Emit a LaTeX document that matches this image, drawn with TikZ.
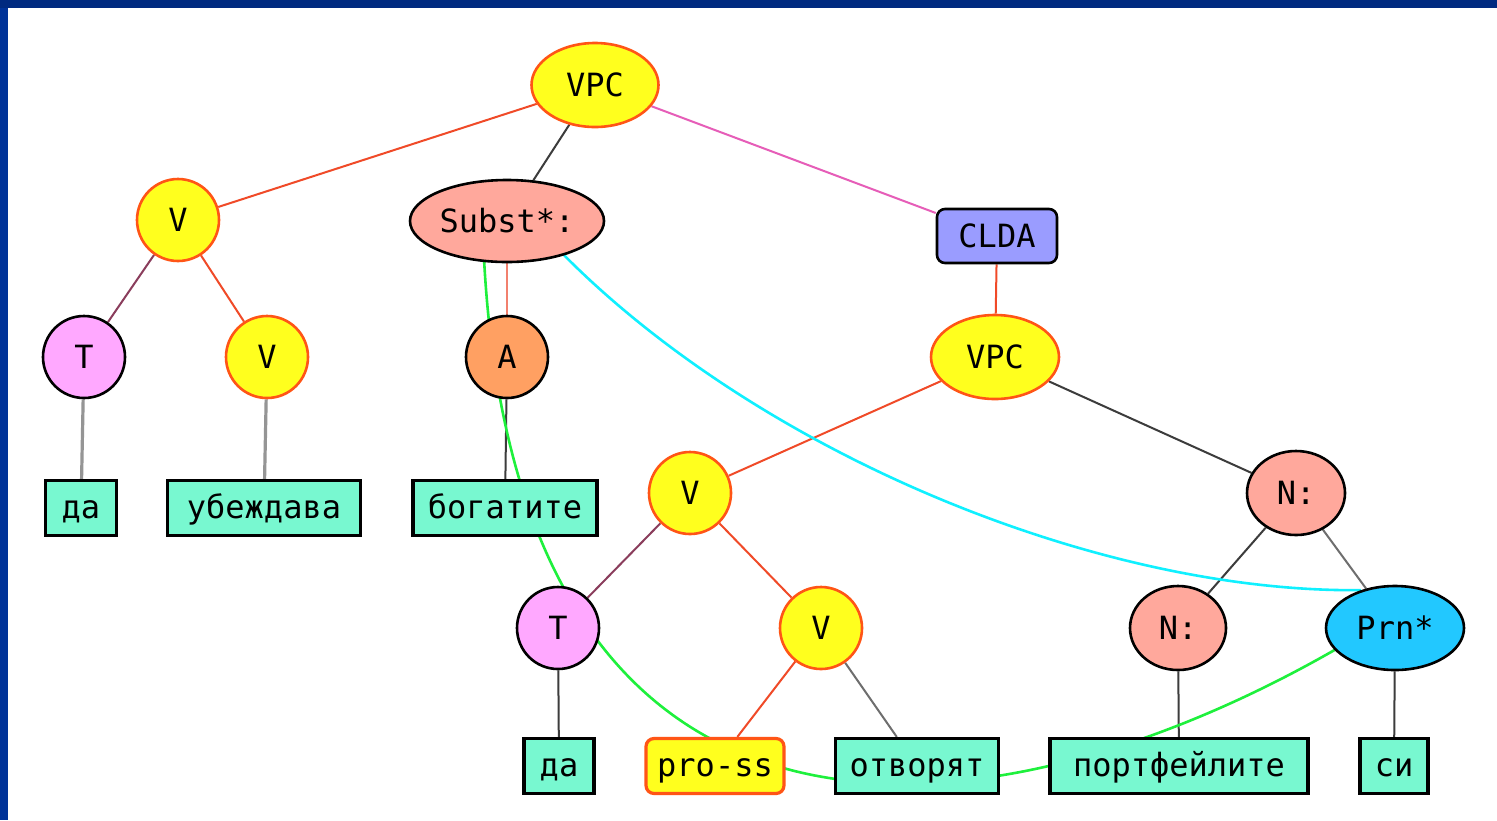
\documentclass[tikz,border=0pt]{standalone}
\usepackage{fontspec}
\newfontfamily\pixfont{DejaVu Sans Mono}
\usetikzlibrary{shapes.geometric,backgrounds}

\definecolor{navytop}{HTML}{002A80}
\definecolor{navyleft}{HTML}{003399}
\definecolor{yel}{HTML}{FFFF1E}
\definecolor{orn}{HTML}{FF5516}
\definecolor{salm}{HTML}{FFA89C}
\definecolor{apri}{HTML}{FFA062}
\definecolor{pinkf}{HTML}{FFA8FF}
\definecolor{lav}{HTML}{9A9CFF}
\definecolor{skyf}{HTML}{22C8FF}
\definecolor{leafc}{HTML}{78F8D0}
\definecolor{eRed}{HTML}{F04A28}
\definecolor{eDark}{HTML}{3C3C3C}
\definecolor{ePink}{HTML}{E65DB8}
\definecolor{eMaroon}{HTML}{8A3D5C}
\definecolor{eSalmon}{HTML}{F2806E}
\definecolor{eLight}{HTML}{959595}
\definecolor{eMid}{HTML}{6E6E6E}
\definecolor{eGreen}{HTML}{1EF03C}
\definecolor{eCyan}{HTML}{10F0FF}

\tikzset{
  lbl/.style={font=\pixfont\fontsize{16}{18}\selectfont, text=black, inner sep=0pt,
              text height=11.7pt, text depth=0pt},
  lower/.style={text height=10pt, text depth=0pt},
  ynode/.style={lbl, draw=orn, fill=yel, line width=1.3pt},
  bnode/.style={lbl, draw=black, line width=1.3pt},
  disc/.style={circle, minimum size=41pt},
  oval/.style 2 args={ellipse, minimum width=#1pt, minimum height=#2pt},
  leaf/.style={lbl, lower, rectangle, draw=black, fill=leafc, line width=1.6pt,
               minimum height=27.5pt, minimum width=#1pt},
  edge/.style={line width=1pt, draw=#1},
  stem/.style={line width=1.6pt, draw=eLight},
  arc/.style={line width=1.3pt, draw=#1}
}

\begin{document}
\begin{tikzpicture}[x=0.5pt,y=-0.5pt]
\useasboundingbox (0,0) rectangle (1497,820);

% phrase nodes
\node[ynode, oval={63.5}{42}] (vpcA) at (595,85) {VPC};
\node[ynode, disc] (vL) at (178,220) {V};
\node[bnode, fill=salm, oval={97}{41}] (subst) at (507,221) {Subst*:};
\node[bnode, fill=lav, rectangle, rounded corners=4pt,
      minimum width=60pt, minimum height=27pt] (clda) at (997,236) {CLDA};
\node[bnode, fill=pinkf, disc] (tL) at (84,357) {T};
\node[ynode, disc] (vLL) at (267,357) {V};
\node[bnode, fill=apri, disc] (adj) at (507,357) {A};
\node[ynode, oval={64}{42}] (vpcB) at (995,357) {VPC};
\node[ynode, disc] (vM) at (690,493) {V};
\node[bnode, fill=salm, oval={49}{42}] (nTop) at (1296,493) {N:};
\node[bnode, fill=pinkf, disc] (tM) at (558,628) {T};
\node[ynode, disc] (vR) at (821,628) {V};
\node[bnode, fill=salm, oval={48}{42}] (nLow) at (1178,628) {N:};
\node[bnode, fill=skyf, oval={69}{42}] (prn) at (1395,628) {Prn*};

% word leaves
\node[leaf=35.5] (da1) at (81,508) {да};
\node[leaf=96.5] (ubezh) at (264,508) {убеждава};
\node[leaf=92] (bogat) at (505,508) {богатите};
\node[leaf=35] (da2) at (559,766) {да};
\node[ynode, lower, rectangle, rounded corners=4pt, line width=1.6pt,
      minimum width=69pt, minimum height=27.5pt] (pross) at (715,766) {pro-ss};
\node[leaf=81.5] (otvor) at (917,766) {отворят};
\node[leaf=129] (portf) at (1179,766) {портфейлите};
\node[leaf=34] (si) at (1394,766) {си};

% control points of the two long links
\coordinate (g1) at (520,900);
\coordinate (g2) at (985,850);
\coordinate (c1) at (763,455);
\coordinate (c2) at (1100,593);

\begin{pgfonlayer}{background}
  \fill[white] (0,0) rectangle (1497,820);
  \fill[navytop] (0,0) rectangle (1497,8);
  \fill[navyleft] (0,8) rectangle (8,820);

  % tree edges
  \draw[edge=eRed] (vpcA) -- (vL);
  \draw[edge=eDark] (vpcA) -- (subst);
  \draw[edge=ePink] (vpcA) -- (clda);
  \draw[edge=eMaroon] (vL) -- (tL);
  \draw[edge=eRed] (vL) -- (vLL);
  \draw[stem] (tL) -- (da1);
  \draw[stem] (vLL) -- (ubezh);
  \draw[edge=eSalmon] (subst) -- (adj);
  \draw[edge=eDark] (adj) -- (bogat);
  \draw[edge=eRed] (clda) -- (vpcB);
  \draw[edge=eRed] (vpcB) -- (vM);
  \draw[edge=eDark] (vpcB) -- (nTop);
  \draw[edge=eMaroon] (vM) -- (tM);
  \draw[edge=eRed] (vM) -- (vR);
  \draw[edge=eDark] (tM) -- (da2);
  \draw[edge=eRed] (vR) -- (pross);
  \draw[edge=eMid] (vR) -- (otvor);
  \draw[edge=eDark] (nTop) -- (nLow);
  \draw[edge=eMid] (nTop) -- (prn);
  \draw[edge=eDark] (nLow) -- (portf);
  \draw[edge=eDark] (prn) -- (si);

  % long-distance links
  \draw[arc=eGreen] (subst.241) .. controls (g1) and (g2) .. (prn.200);
  \draw[arc=eCyan] (subst.329) .. controls (c1) and (c2) .. (prn.132);
\end{pgfonlayer}
\end{tikzpicture}
\end{document}
